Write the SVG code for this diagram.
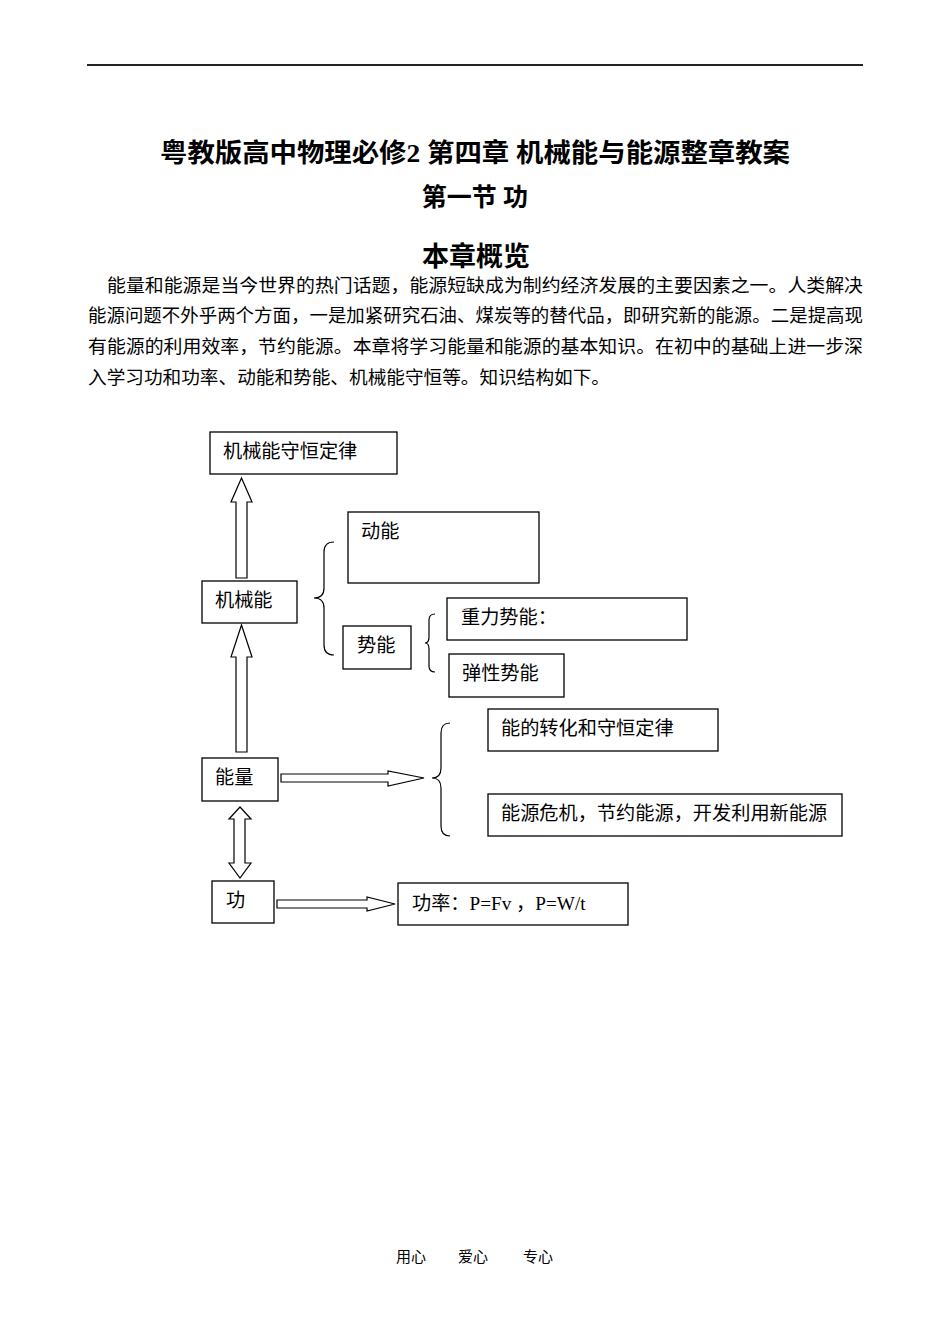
<svg xmlns="http://www.w3.org/2000/svg" width="950" height="1342" viewBox="0 0 950 1342">
<style>
text{font-family:"Liberation Serif","Noto Sans CJK SC",serif;fill:#000}
.h{font-weight:bold}
.p{font-size:18.5px}
.lbl{font-size:19.2px}
.box{fill:#fff;stroke:#000;stroke-width:1.3}
.arr{fill:#fff;stroke:#000;stroke-width:1.2;stroke-linejoin:miter}
.br{fill:none;stroke:#000;stroke-width:1.2}
.ft{font-size:15px}
</style>
<rect width="950" height="1342" fill="#fff"/>
<line x1="87" y1="65" x2="863" y2="65" stroke="#222" stroke-width="2"/>
<text class="h" x="475" y="162" font-size="26" text-anchor="middle" textLength="630" lengthAdjust="spacingAndGlyphs">粤教版高中物理必修2 第四章 机械能与能源整章教案</text>
<text class="h" x="475" y="206" font-size="25" text-anchor="middle">第一节 功</text>
<text class="h" x="476" y="266" font-size="27" text-anchor="middle">本章概览</text>
<text class="p" x="107" y="292" textLength="756" lengthAdjust="spacingAndGlyphs">能量和能源是当今世界的热门话题，能源短缺成为制约经济发展的主要因素之一。人类解决</text>
<text class="p" x="88" y="322" textLength="775" lengthAdjust="spacingAndGlyphs">能源问题不外乎两个方面，一是加紧研究石油、煤炭等的替代品，即研究新的能源。二是提高现</text>
<text class="p" x="88" y="353" textLength="775" lengthAdjust="spacingAndGlyphs">有能源的利用效率，节约能源。本章将学习能量和能源的基本知识。在初中的基础上进一步深</text>
<text class="p" x="88" y="384" textLength="522" lengthAdjust="spacingAndGlyphs">入学习功和功率、动能和势能、机械能守恒等。知识结构如下。</text>

<g id="connectors">
<polygon class="arr" points="236,578 236,502 231,502 241.5,478 252,502 247,502 247,578"/>
<polygon class="arr" points="236,752 236,657 231,657 241.5,625 252,657 247,657 247,752"/>
<polygon class="arr" points="281,774 388,774 388,771 424,778 388,786 388,782 281,782"/>
<polygon class="arr" points="240,807 251,819 245,819 245,863 251,863 240,878 229,863 234,863 234,819 229,819"/>
<polygon class="arr" points="277,900 367,900 367,897 395,904 367,911 367,908 277,908"/>
<path class="br" d="M334,542 Q324,542 324,552 L324,588 Q324,598 314,598 Q324,598 324,608 L324,645 Q324,655 334,655"/>
<path class="br" d="M435,614 Q429,614 429,620 L429,637 Q429,643 425,643 Q429,643 429,649 L429,666 Q429,672 435,672"/>
<path class="br" d="M450,723 Q441,723 441,733 L441,768 Q441,778 432,778 Q441,778 441,788 L441,826 Q441,836 450,836"/>
</g>

<g id="n-jxnshdl"><rect class="box" x="210" y="432" width="187" height="42"/><text class="lbl" x="223" y="458">机械能守恒定律</text></g>
<g id="n-dongneng"><rect class="box" x="348" y="512" width="191" height="71"/><text class="lbl" x="361" y="538">动能</text></g>
<g id="n-jixieneng"><rect class="box" x="202" y="581" width="95" height="42"/><text class="lbl" x="215" y="607">机械能</text></g>
<g id="n-shineng"><rect class="box" x="343" y="626" width="68" height="43"/><text class="lbl" x="357" y="652">势能</text></g>
<g id="n-zhongli"><rect class="box" x="447" y="598" width="240" height="42"/><text class="lbl" x="461" y="624">重力势能：</text></g>
<g id="n-tanxing"><rect class="box" x="449" y="654" width="115" height="43"/><text class="lbl" x="462" y="680">弹性势能</text></g>
<g id="n-zhuanhua"><rect class="box" x="488" y="709" width="230" height="42"/><text class="lbl" x="501" y="735">能的转化和守恒定律</text></g>
<g id="n-nengliang"><rect class="box" x="202" y="758" width="76" height="43"/><text class="lbl" x="215" y="784">能量</text></g>
<g id="n-weiji"><rect class="box" x="488" y="794" width="354" height="42"/><text class="lbl" x="501" y="820">能源危机，节约能源，开发利用新能源</text></g>
<g id="n-gong"><rect class="box" x="212" y="881" width="62" height="42"/><text class="lbl" x="226" y="907">功</text></g>
<g id="n-gonglv"><rect class="box" x="398" y="883" width="230" height="42"/><text class="lbl" x="412" y="910">功率：P=Fv ，P=W/t</text></g>

<text class="ft" x="396" y="1262">用心</text>
<text class="ft" x="458" y="1262">爱心</text>
<text class="ft" x="523" y="1262">专心</text>
</svg>
